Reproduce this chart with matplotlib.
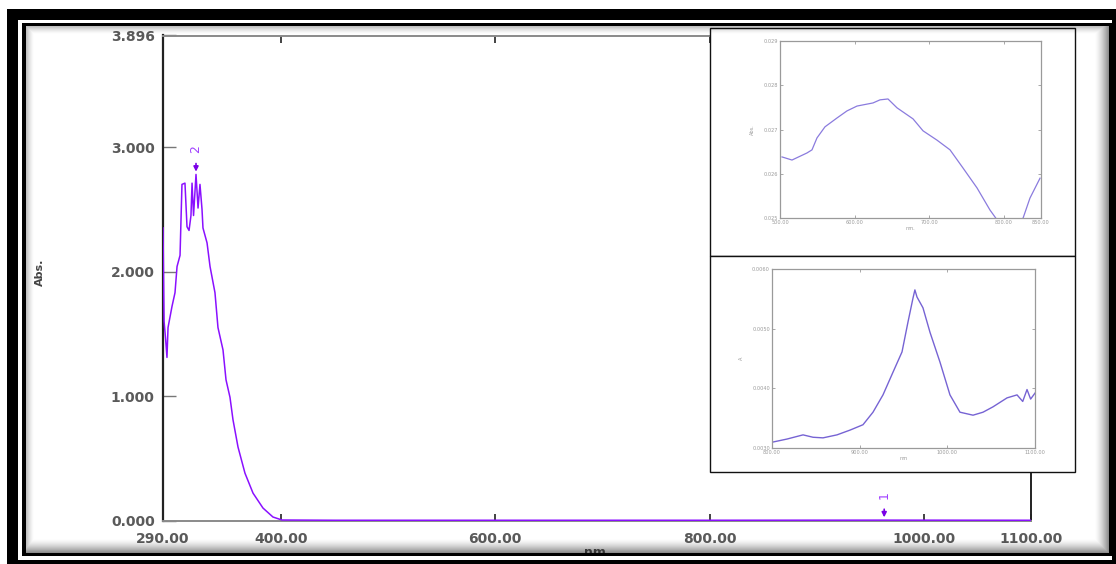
import numpy as np
import matplotlib
matplotlib.use("Agg")
import matplotlib.pyplot as plt

# ---- main spectrum (nm, Abs.) ----
wavelength = [290.0, 291.0, 292.5, 293.7, 294.7, 298.4, 301.2, 303.1, 305.9, 307.7,
              310.5, 312.4, 314.3, 316.1, 317.1, 318.5, 320.8, 322.7, 324.5, 326.4,
              327.3, 331.1, 333.9, 338.5, 341.3, 346.0, 348.8, 352.5, 355.3, 360.0,
              366.5, 374.0, 383.3, 392.6, 401.0, 450.0, 600.0, 800.0, 963.0, 1100.0]
absorbance = [2.35, 1.60, 1.45, 1.31, 1.55, 1.72, 1.83, 2.04, 2.13, 2.70,
              2.71, 2.36, 2.33, 2.45, 2.71, 2.45, 2.78, 2.51, 2.70, 2.50,
              2.35, 2.23, 2.04, 1.83, 1.55, 1.37, 1.13, 0.99, 0.81, 0.59,
              0.38, 0.22, 0.10, 0.028, 0.004, 0.002, 0.002, 0.002, 0.003, 0.002]

peak_labels = ["2", "1"]
peak_nm = [320.8, 963.0]
peak_abs = [2.78, 0.003]

x_ticks = [290, 400, 600, 800, 1000, 1100]
x_ticklabels = ["290.00", "400.00", "600.00", "800.00", "1000.00", "1100.00"]
y_ticks = [0.0, 1.0, 2.0, 3.0, 3.896]
y_ticklabels = ["0.000", "1.000", "2.000", "3.000", "3.896"]

# ---- upper inset: 500-850 nm detail ----
ins1_nm = [502.7, 516.1, 536.2, 542.9, 549.6, 560.3, 576.4, 589.8, 603.3, 624.7,
           634.1, 644.8, 656.9, 678.4, 691.8, 710.5, 728.0, 745.4, 764.2, 781.6,
           791.0, 808.4, 826.0, 835.2, 848.7]
ins1_abs = [0.02638, 0.02631, 0.02647, 0.02654, 0.02681, 0.02706, 0.02726, 0.02742,
            0.02753, 0.02760, 0.02767, 0.02769, 0.02749, 0.02724, 0.02697, 0.02676,
            0.02654, 0.02613, 0.02568, 0.02518, 0.02496, 0.02470, 0.02500, 0.02545,
            0.02590]
ins1_xticks = [500, 600, 700, 800, 850]
ins1_yticks = [0.025, 0.026, 0.027, 0.028, 0.029]

# ---- lower inset: 800-1100 nm detail ----
ins2_nm = [801.1, 817.1, 835.4, 846.8, 858.2, 874.1, 889.0, 903.8, 915.2, 926.6,
           938.0, 948.3, 955.1, 960.8, 963.0, 965.4, 972.2, 980.2, 991.6, 1003.0,
           1014.4, 1029.3, 1040.7, 1052.1, 1068.1, 1079.5, 1086.0, 1090.9, 1095.0, 1100.0]
ins2_abs = [0.00310, 0.00315, 0.00322, 0.00318, 0.00317, 0.00322, 0.00330, 0.00339,
            0.00360, 0.00389, 0.00427, 0.00461, 0.00511, 0.00551, 0.00565, 0.00553,
            0.00535, 0.00494, 0.00444, 0.00389, 0.00360, 0.00355, 0.00360, 0.00369,
            0.00384, 0.00389, 0.00378, 0.00398, 0.00382, 0.00392]
ins2_xticks = [800, 900, 1000, 1100]
ins2_yticks = [0.003, 0.004, 0.005, 0.006]

W, H = 1116, 564
fig = plt.figure(figsize=(W / 100, H / 100), dpi=100)
fig.patch.set_facecolor("white")


def fx(px):
    return px / W


def fy(py):
    return 1 - py / H


tick_font = dict(family="DejaVu Sans", weight="bold", size=10, color="#5a5a5a")

# ---- main axes ----
ax = fig.add_axes([fx(163), fy(520.5), fx(1031) - fx(163), fy(35.5) - fy(520.5)])
ax.plot(wavelength, absorbance, color="#8a10ff", lw=1.1, zorder=3)
ax.set_xlim(290, 1100)
ax.set_ylim(0, 3.896)
ax.set_xticks(x_ticks)
ax.set_xticklabels(x_ticklabels, fontdict=tick_font)
ax.set_yticks(y_ticks)
ax.set_yticklabels(y_ticklabels, fontdict=tick_font)
ax.tick_params(axis="x", direction="in", length=5, width=1.2, color="#222222", pad=8,
               top=True)
ax.tick_params(axis="y", direction="in", length=9, width=1.0, color="#777777", pad=6)
ax.spines["left"].set_color("#222222")
ax.spines["left"].set_linewidth(1.6)
ax.spines["right"].set_color("#222222")
ax.spines["right"].set_linewidth(1.4)
ax.spines["top"].set_color("#8a8a8a")
ax.spines["top"].set_linewidth(1.4)
ax.spines["bottom"].set_color("#8a8a8a")
ax.spines["bottom"].set_linewidth(1.4)

for lab, xv, yv in zip(peak_labels, peak_nm, peak_abs):
    ax.annotate("", xy=(xv, yv), xytext=(xv, yv + 0.11),
                arrowprops=dict(arrowstyle="-|>", color="#7a00e6", lw=1.2,
                                mutation_scale=7), zorder=5)
    ax.text(xv, yv + 0.2, lab, rotation=90, ha="center", va="center",
            fontsize=9, color="#a040ff", zorder=5)

fig.text(fx(40), fy(272), "Abs.", rotation=90, ha="center", va="center",
         fontsize=8, fontweight="bold", color="#444444")
fig.text(fx(597), fy(553), "nm.", ha="center", va="center",
         fontsize=9, fontweight="bold", color="#555555")

# ---- inset frames ----
for (x0, y0, x1, y1) in [(710, 28, 1075, 256), (710, 256, 1075, 472)]:
    fig.patches.append(plt.Rectangle((fx(x0), fy(y1)), fx(x1) - fx(x0), fy(y0) - fy(y1),
                                     transform=fig.transFigure, facecolor="white",
                                     edgecolor="#111111", lw=1.0, zorder=4))

small = dict(fontsize=3.6, color="#9a9a9a")


def style_inset(a):
    for s in a.spines.values():
        s.set_color("#9a9a9a")
        s.set_linewidth(0.9)
    a.tick_params(direction="in", length=2.5, width=0.6, colors="#9a9a9a",
                  labelsize=3.6, pad=1.5, top=True, right=True)
    a.set_facecolor("white")


a1 = fig.add_axes([fx(780), fy(218), fx(1041) - fx(780), fy(41) - fy(218)], zorder=5)
a1.plot(ins1_nm, ins1_abs, color="#7664d8", lw=0.9, alpha=0.85)
a1.set_xlim(500, 850)
a1.set_ylim(0.025, 0.029)
a1.set_xticks(ins1_xticks)
a1.set_xticklabels([f"{v:.2f}" for v in ins1_xticks])
a1.set_yticks(ins1_yticks)
a1.set_yticklabels([f"{v:.3f}" for v in ins1_yticks])
style_inset(a1)
a1.set_xlabel("nm.", labelpad=1, **small)
a1.set_ylabel("Abs.", labelpad=6, **small)

a2 = fig.add_axes([fx(772), fy(448), fx(1035) - fx(772), fy(269) - fy(448)], zorder=5)
a2.plot(ins2_nm, ins2_abs, color="#5e48cc", lw=1.0, alpha=0.85)
a2.set_xlim(800, 1100)
a2.set_ylim(0.003, 0.006)
a2.set_xticks(ins2_xticks)
a2.set_xticklabels([f"{v:.2f}" for v in ins2_xticks])
a2.set_yticks(ins2_yticks)
a2.set_yticklabels([f"{v:.4f}" for v in ins2_yticks])
style_inset(a2)
a2.set_xlabel("nm", labelpad=1, **small)
a2.set_ylabel("A", labelpad=6, **small)

# ---- picture frame with inner shadow ----
frame = np.zeros((H, W, 4))
frame[9:, 7:, 3] = 1.0                       # outer black band
frame[20:560, 18:1112, :] = [1, 1, 1, 1]      # white gap
frame[23:556, 22:1112, :] = [0, 0, 0, 1]      # inner thin line
frame[26:553, 26:1109, :] = 0.0               # transparent interior
# soft shadow along the inner edges
for i in range(14):
    a = 0.45 * (1 - i / 14) ** 1.5
    frame[553 - 1 - i, 26:1109, 3] = np.maximum(frame[553 - 1 - i, 26:1109, 3], a)
    frame[26:553, 1109 - 1 - i, 3] = np.maximum(frame[26:553, 1109 - 1 - i, 3], a)
for i in range(8):
    a = 0.25 * (1 - i / 8) ** 1.5
    frame[26 + i, 26:1109, 3] = np.maximum(frame[26 + i, 26:1109, 3], a)
    frame[26:553, 26 + i, 3] = np.maximum(frame[26:553, 26 + i, 3], a)

ov = fig.add_axes([0, 0, 1, 1], zorder=20)
ov.imshow(frame, interpolation="nearest", aspect="auto", extent=(0, W, H, 0))
ov.set_xlim(0, W)
ov.set_ylim(H, 0)
ov.axis("off")
ov.patch.set_alpha(0)

fig.savefig("out.png", dpi=100)
